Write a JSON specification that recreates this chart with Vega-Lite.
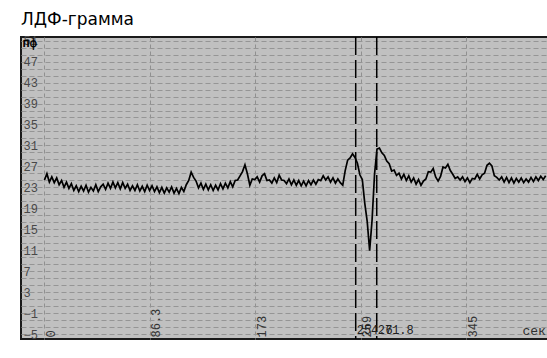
{
  "$schema": "https://vega.github.io/schema/vega-lite/v6.json",
  "width": 527,
  "height": 302,
  "autosize": {"type": "none"},
  "padding": {"left": 21, "top": 37, "right": 0, "bottom": 19},
  "background": "white",
  "title": {"text": "ЛДФ-грамма", "anchor": "start", "frame": "group", "font": "DejaVu Sans", "fontSize": 17, "fontWeight": "normal", "color": "black", "offset": 6},
  "config": {"view": {"fill": "#c0c0c0", "stroke": "#1a1a1a", "strokeWidth": 2}},
  "datasets": {
    "ldf": [
      {"t":0,"v":24.4},{"t":2,"v":25.6},{"t":4,"v":24.0},{"t":6,"v":25.0},{"t":8,"v":23.9},{"t":10,"v":24.8},{"t":12,"v":23.5},{"t":14,"v":24.3},{"t":16,"v":23.0},{"t":18,"v":24.0},
      {"t":20,"v":22.8},{"t":22,"v":23.7},{"t":24,"v":22.4},{"t":26,"v":23.3},{"t":28,"v":22.2},{"t":30,"v":23.2},{"t":32,"v":22.3},{"t":34,"v":23.4},{"t":36,"v":22.1},{"t":38,"v":23.0},
      {"t":40,"v":22.3},{"t":42,"v":23.5},{"t":44,"v":22.2},{"t":46,"v":23.1},{"t":48,"v":23.6},{"t":50,"v":22.6},{"t":52,"v":23.8},{"t":54,"v":22.8},{"t":56,"v":24.0},{"t":58,"v":22.9},
      {"t":60,"v":23.9},{"t":62,"v":22.7},{"t":64,"v":23.9},{"t":66,"v":22.8},{"t":68,"v":23.6},{"t":70,"v":22.4},{"t":72,"v":23.3},{"t":74,"v":22.4},{"t":76,"v":23.5},{"t":78,"v":22.3},
      {"t":80,"v":23.2},{"t":82,"v":22.2},{"t":84,"v":23.4},{"t":86,"v":22.4},{"t":88,"v":23.3},{"t":90,"v":22.2},{"t":92,"v":23.1},{"t":94,"v":22.0},{"t":96,"v":23.0},{"t":98,"v":21.9},
      {"t":100,"v":22.9},{"t":102,"v":22.1},{"t":104,"v":23.1},{"t":106,"v":21.9},{"t":108,"v":22.8},{"t":110,"v":21.8},{"t":112,"v":23.0},{"t":114,"v":22.2},{"t":116,"v":23.5},{"t":118,"v":24.3},
      {"t":120,"v":25.9},{"t":122,"v":24.9},{"t":124,"v":24.2},{"t":126,"v":22.9},{"t":128,"v":23.8},{"t":130,"v":22.6},{"t":132,"v":23.6},{"t":134,"v":22.5},{"t":136,"v":23.5},{"t":138,"v":22.4},
      {"t":140,"v":23.4},{"t":142,"v":22.5},{"t":144,"v":23.7},{"t":146,"v":22.7},{"t":148,"v":23.8},{"t":150,"v":22.9},{"t":152,"v":24.1},{"t":154,"v":23.1},{"t":156,"v":24.3},{"t":158,"v":24.4},
      {"t":160,"v":25.2},{"t":162,"v":26.0},{"t":164,"v":27.3},{"t":166,"v":25.6},{"t":168,"v":23.4},{"t":170,"v":24.6},{"t":172,"v":24.5},{"t":174,"v":25.0},{"t":176,"v":24.0},{"t":178,"v":25.2},
      {"t":180,"v":25.6},{"t":182,"v":24.3},{"t":184,"v":24.4},{"t":186,"v":23.8},{"t":188,"v":24.8},{"t":190,"v":23.9},{"t":192,"v":25.3},{"t":194,"v":24.4},{"t":196,"v":24.3},{"t":198,"v":23.7},
      {"t":200,"v":24.6},{"t":202,"v":23.5},{"t":204,"v":24.4},{"t":206,"v":23.4},{"t":208,"v":24.3},{"t":210,"v":23.3},{"t":212,"v":24.2},{"t":214,"v":23.3},{"t":216,"v":24.3},{"t":218,"v":23.5},
      {"t":220,"v":24.4},{"t":222,"v":23.6},{"t":224,"v":24.5},{"t":226,"v":24.3},{"t":228,"v":25.2},{"t":230,"v":24.4},{"t":232,"v":25.0},{"t":234,"v":24.0},{"t":236,"v":24.8},{"t":238,"v":23.8},
      {"t":240,"v":24.6},{"t":242,"v":23.9},{"t":244,"v":23.4},{"t":246,"v":26.2},{"t":248,"v":28.2},{"t":250,"v":28.6},{"t":252,"v":29.4},{"t":254,"v":28.7},{"t":256,"v":27.6},{"t":258,"v":25.4},
      {"t":260,"v":24.5},{"t":262,"v":20.0},{"t":264,"v":16.5},{"t":266,"v":10.9},{"t":268,"v":16.8},{"t":270,"v":25.5},{"t":272,"v":30.3},{"t":274,"v":30.5},{"t":276,"v":29.6},{"t":278,"v":29.1},
      {"t":280,"v":28.0},{"t":282,"v":27.5},{"t":284,"v":26.1},{"t":286,"v":26.3},{"t":288,"v":25.3},{"t":290,"v":25.7},{"t":292,"v":24.6},{"t":294,"v":25.5},{"t":296,"v":24.3},{"t":298,"v":25.2},
      {"t":300,"v":24.0},{"t":302,"v":24.8},{"t":304,"v":23.6},{"t":306,"v":24.5},{"t":308,"v":23.4},{"t":310,"v":24.2},{"t":312,"v":24.6},{"t":314,"v":26.0},{"t":316,"v":25.9},{"t":318,"v":26.6},
      {"t":320,"v":25.0},{"t":322,"v":24.2},{"t":324,"v":25.1},{"t":326,"v":26.9},{"t":328,"v":26.7},{"t":330,"v":27.4},{"t":332,"v":26.2},{"t":334,"v":25.5},{"t":336,"v":24.7},{"t":338,"v":25.0},
      {"t":340,"v":24.4},{"t":342,"v":25.0},{"t":344,"v":24.1},{"t":346,"v":24.8},{"t":348,"v":23.9},{"t":350,"v":24.7},{"t":352,"v":24.6},{"t":354,"v":25.5},{"t":356,"v":24.6},{"t":358,"v":25.4},
      {"t":360,"v":25.7},{"t":362,"v":27.2},{"t":364,"v":27.6},{"t":366,"v":27.1},{"t":368,"v":25.2},{"t":370,"v":24.9},{"t":372,"v":24.4},{"t":374,"v":25.0},{"t":376,"v":24.0},{"t":378,"v":24.9},
      {"t":380,"v":23.9},{"t":382,"v":24.8},{"t":384,"v":23.8},{"t":386,"v":24.7},{"t":388,"v":24.0},{"t":390,"v":24.8},{"t":392,"v":23.9},{"t":394,"v":24.6},{"t":396,"v":24.0},{"t":398,"v":24.9},
      {"t":400,"v":24.1},{"t":402,"v":25.0},{"t":404,"v":24.3},{"t":406,"v":25.1},{"t":408,"v":24.5},{"t":410,"v":25.2}
    ],
    "markers": [
      {"m": 254.6, "label": "254.6"},
      {"m": 271.8, "label": "271.8"}
    ]
  },
  "layer": [
    {
      "data": {"name": "ldf"},
      "mark": {"type": "line", "color": "black", "strokeWidth": 1.7},
      "encoding": {
        "x": {
          "field": "t", "type": "quantitative",
          "scale": {"domain": [-19.2, 411.9], "nice": false, "zero": false},
          "axis": {
            "orient": "bottom",
            "values": [0, 86.3, 172.6, 258.9, 345.2],
            "tickCount": 100,
            "labelExpr": "datum.value === 86.3 ? '86.3' : format(datum.value, '.0f')",
            "grid": true, "gridColor": "#909090", "gridDash": [4, 3], "gridWidth": 1,
            "ticks": false, "tickSize": 0, "domain": false,
            "labelAngle": 270, "labelAlign": "left", "labelBaseline": "top",
            "labelPadding": -2, "labelOffset": 1,
            "labelFont": "Liberation Mono", "labelFontSize": 12, "labelColor": "#333333",
            "labelFlush": false, "labelOverlap": false, "labelBound": false,
            "title": "сек", "titleX": 501, "titleY": -2, "titleAlign": "left", "titleBaseline": "bottom",
            "titleFont": "Liberation Mono", "titleFontSize": 13, "titleFontWeight": "normal", "titleColor": "#303030"
          }
        },
        "y": {
          "field": "v", "type": "quantitative",
          "scale": {"domain": [-5.95, 51.7], "nice": false, "zero": false},
          "axis": {
            "orient": "left",
            "values": [-5, -3.6667, -2.3333, -1, 0.3333, 1.6667, 3, 4.3333, 5.6667, 7, 8.3333, 9.6667, 11, 12.3333, 13.6667, 15, 16.3333, 17.6667, 19, 20.3333, 21.6667, 23, 24.3333, 25.6667, 27, 28.3333, 29.6667, 31, 32.3333, 33.6667, 35, 36.3333, 37.6667, 39, 40.3333, 41.6667, 43, 44.3333, 45.6667, 47, 48.3333, 49.6667, 51],
            "tickCount": 100,
            "labelExpr": "abs((datum.value + 5) / 4 - round((datum.value + 5) / 4)) < 0.01 ? format(datum.value, 'd') : ''",
            "grid": true, "gridColor": "#959595", "gridDash": [5, 3], "gridWidth": 1,
            "ticks": false, "tickSize": 0, "domain": false,
            "labelAlign": "left", "labelBaseline": "middle", "labelPadding": -2,
            "labelFont": "Liberation Mono", "labelFontSize": 12, "labelColor": "#484848",
            "labelFlush": false, "labelOverlap": false, "labelBound": false,
            "title": "пф", "titleAngle": 0, "titleX": 1, "titleY": 5, "titleAlign": "left", "titleBaseline": "middle",
            "titleFont": "Liberation Mono", "titleFontSize": 12, "titleFontWeight": "bold", "titleColor": "black"
          }
        }
      }
    },
    {
      "mark": {"type": "rule", "color": "#7a7a7a", "strokeWidth": 1.2},
      "encoding": {"x": {"datum": 0, "type": "quantitative"}}
    },
    {
      "mark": {"type": "rule", "color": "#7a7a7a", "strokeWidth": 1.2},
      "encoding": {"y": {"datum": 2, "type": "quantitative"}}
    },
    {
      "data": {"name": "markers"},
      "mark": {"type": "rule", "color": "black", "strokeWidth": 1.5, "strokeDash": [18, 5]},
      "encoding": {"x": {"field": "m", "type": "quantitative"}}
    },
    {
      "data": {"name": "markers"},
      "mark": {"type": "text", "align": "left", "baseline": "bottom", "dx": 1, "dy": -2, "font": "Liberation Mono", "fontSize": 12, "color": "#202020"},
      "encoding": {
        "x": {"field": "m", "type": "quantitative"},
        "y": {"datum": -5.95, "type": "quantitative"},
        "text": {"field": "label"}
      }
    }
  ]
}
